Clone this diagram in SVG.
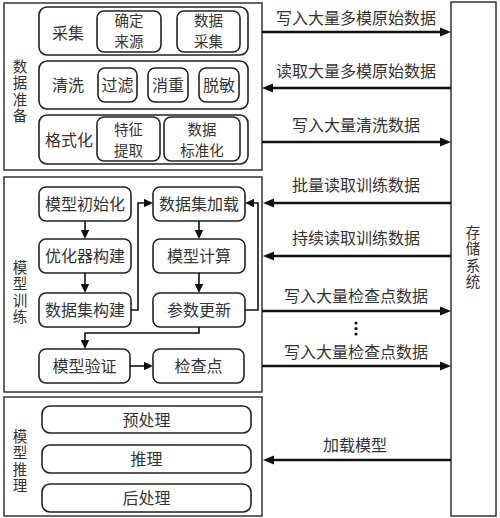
<svg xmlns="http://www.w3.org/2000/svg" width="500" height="518" viewBox="0 0 500 518">
<style>
.box{fill:#fff;stroke:#333;stroke-width:1.5}
.row{fill:#fff;stroke:#222;stroke-width:1.6}
.nd{fill:#fff;stroke:#222;stroke-width:1.6}
text{font-family:"Noto Sans CJK SC","Liberation Sans",sans-serif;font-size:16px;fill:#333;text-anchor:middle}
text.v{font-size:14.5px;writing-mode:vertical-rl;letter-spacing:2px}
text.two{font-size:14.5px}
.big{fill:none;stroke:#111;stroke-width:2.6}
.sm{fill:none;stroke:#111;stroke-width:1.6}
</style>
<defs>
<marker id="ab" markerUnits="userSpaceOnUse" markerWidth="12" markerHeight="10" viewBox="0 -5 12 10" refX="0" refY="0" orient="auto"><path d="M0,-4.5 L11,0 L0,4.5 z" fill="#111"/></marker>
<marker id="as" markerUnits="userSpaceOnUse" markerWidth="10" markerHeight="9" viewBox="0 -4.5 10 9" refX="0" refY="0" orient="auto"><path d="M0,-4.2 L9,0 L0,4.2 z" fill="#111"/></marker>
</defs>
<rect width="500" height="518" fill="#fff"/>

<g id="storage">
<rect class="box" x="451" y="2" width="45" height="514"/>
<text class="v" x="473" y="258">存储系统</text>
</g>

<g id="data-prep">
<rect class="box" x="4" y="3" width="258" height="167"/>
<text class="v" x="20" y="92">数据准备</text>
<g id="collect">
<rect class="row" x="39" y="7" width="209" height="48" rx="8"/>
<text x="68" y="39">采集</text>
<rect class="nd" x="97" y="11" width="64" height="41" rx="7"/>
<text class="two" x="129" y="26">确定</text><text class="two" x="129" y="47">来源</text>
<rect class="nd" x="177" y="11" width="63" height="41" rx="7"/>
<text class="two" x="208.5" y="26">数据</text><text class="two" x="208.5" y="47">采集</text>
</g>
<g id="clean">
<rect class="row" x="39" y="61" width="209" height="48" rx="8"/>
<text x="68" y="91">清洗</text>
<rect class="nd" x="98" y="68" width="39" height="34" rx="7"/>
<text x="117.5" y="91">过滤</text>
<rect class="nd" x="148" y="68" width="40" height="34" rx="7"/>
<text x="168" y="91">消重</text>
<rect class="nd" x="199" y="68" width="40" height="34" rx="7"/>
<text x="219" y="91">脱敏</text>
</g>
<g id="format">
<rect class="row" x="39" y="115" width="209" height="49" rx="8"/>
<text x="69" y="146">格式化</text>
<rect class="nd" x="97" y="117" width="63" height="44" rx="7"/>
<text class="two" x="128.5" y="134.5">特征</text><text class="two" x="128.5" y="155.5">提取</text>
<rect class="nd" x="164" y="117" width="76" height="44" rx="7"/>
<text class="two" x="202" y="134.5">数据</text><text class="two" x="202" y="155.5">标准化</text>
</g>
</g>

<g id="training">
<rect class="box" x="4" y="177" width="258" height="215"/>
<text class="v" x="20" y="293">模型训练</text>
<g id="init"><rect class="nd" x="39" y="187" width="92" height="34" rx="7"/><text x="85" y="210">模型初始化</text></g>
<g id="optim"><rect class="nd" x="39" y="239" width="92" height="34" rx="7"/><text x="85" y="262">优化器构建</text></g>
<g id="dsbuild"><rect class="nd" x="39" y="293" width="92" height="34" rx="7"/><text x="85" y="316">数据集构建</text></g>
<g id="dsload"><rect class="nd" x="153" y="187" width="92" height="34" rx="7"/><text x="199" y="210">数据集加载</text></g>
<g id="compute"><rect class="nd" x="153" y="239" width="92" height="34" rx="7"/><text x="199" y="262">模型计算</text></g>
<g id="update"><rect class="nd" x="153" y="293" width="92" height="34" rx="7"/><text x="199" y="316">参数更新</text></g>
<g id="validate"><rect class="nd" x="39" y="349" width="91" height="34" rx="7"/><text x="84.5" y="372">模型验证</text></g>
<g id="checkpoint"><rect class="nd" x="153" y="349" width="91" height="34" rx="7"/><text x="198.5" y="372">检查点</text></g>
</g>

<g id="inference">
<rect class="box" x="4" y="397" width="258" height="119"/>
<text class="v" x="20" y="462">模型推理</text>
<g id="pre"><rect class="nd" x="42" y="406" width="209" height="27" rx="8"/><text x="146.5" y="425.5">预处理</text></g>
<g id="infer"><rect class="nd" x="42" y="445" width="209" height="28" rx="8"/><text x="146.5" y="465">推理</text></g>
<g id="post"><rect class="nd" x="42" y="484" width="209" height="28" rx="8"/><text x="146.5" y="504">后处理</text></g>
</g>

<g id="connectors">
<path class="sm" d="M85,221 V230" marker-end="url(#as)"/>
<path class="sm" d="M85,273 V284" marker-end="url(#as)"/>
<path class="sm" d="M131,310 H138 V203 H144" marker-end="url(#as)"/>
<path class="sm" d="M199,221 V230" marker-end="url(#as)"/>
<path class="sm" d="M199,273 V284" marker-end="url(#as)"/>
<path class="sm" d="M245,310 H258 V203 H254" marker-end="url(#as)"/>
<path class="sm" d="M199,327 V333 H85 V340" marker-end="url(#as)"/>
<path class="sm" d="M130,366 H144" marker-end="url(#as)"/>

<path class="big" d="M262,32 H440" marker-end="url(#ab)"/>
<path class="big" d="M451,88 H273" marker-end="url(#ab)"/>
<path class="big" d="M262,142 H440" marker-end="url(#ab)"/>
<path class="big" d="M451,203 H274" marker-end="url(#ab)"/>
<path class="big" d="M451,256 H274" marker-end="url(#ab)"/>
<path class="big" d="M262,311 H440" marker-end="url(#ab)"/>
<path class="big" d="M262,366 H440" marker-end="url(#ab)"/>
<path class="big" d="M451,460 H274" marker-end="url(#ab)"/>

<text x="356" y="24">写入大量多模原始数据</text>
<text x="356" y="77">读取大量多模原始数据</text>
<text x="356" y="131">写入大量清洗数据</text>
<text x="356" y="191">批量读取训练数据</text>
<text x="356" y="244">持续读取训练数据</text>
<text x="356" y="302">写入大量检查点数据</text>
<circle cx="356" cy="323" r="1.6" fill="#111"/>
<circle cx="356" cy="328.5" r="1.6" fill="#111"/>
<circle cx="356" cy="334" r="1.6" fill="#111"/>
<text x="356" y="358">写入大量检查点数据</text>
<text x="355" y="451">加载模型</text>
</g>
</svg>
